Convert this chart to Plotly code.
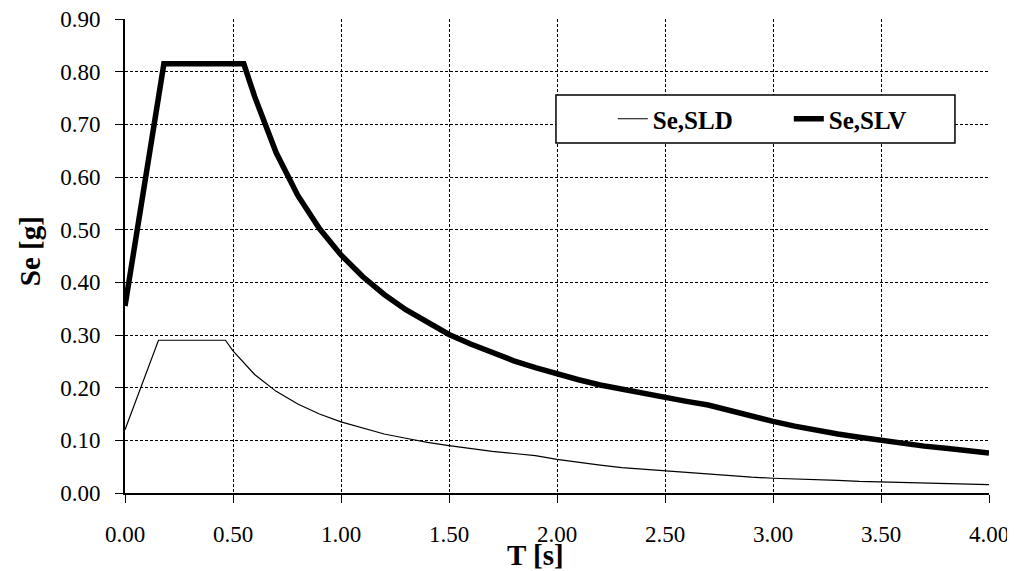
import plotly.graph_objects as go

# Period values [s] and spectral accelerations [g]
T_SLD = [0.0, 0.155, 0.465, 0.5, 0.6, 0.7, 0.8, 0.9, 1.0, 1.1, 1.2, 1.3, 1.4, 1.5,
         1.6, 1.7, 1.8, 1.9, 2.0, 2.1, 2.2, 2.3, 2.4, 2.5, 2.6, 2.7, 2.8, 2.9, 3.0,
         3.1, 3.2, 3.3, 3.4, 3.5, 3.6, 3.7, 3.8, 3.9, 4.0]
Se_SLD = [0.120, 0.290, 0.290, 0.270, 0.225, 0.193, 0.169, 0.150, 0.135, 0.123, 0.112,
          0.104, 0.096, 0.090, 0.084, 0.079, 0.075, 0.071, 0.064, 0.058, 0.053, 0.048,
          0.045, 0.041, 0.038, 0.035, 0.033, 0.030, 0.028, 0.027, 0.025, 0.024, 0.022,
          0.021, 0.020, 0.019, 0.018, 0.017, 0.016]

T_SLV = [0.0, 0.18, 0.55, 0.6, 0.7, 0.8, 0.9, 1.0, 1.1, 1.2, 1.3, 1.4, 1.5, 1.6, 1.7,
         1.8, 1.9, 2.0, 2.1, 2.2, 2.3, 2.4, 2.5, 2.6, 2.7, 2.8, 2.9, 3.0, 3.1, 3.2,
         3.3, 3.4, 3.5, 3.6, 3.7, 3.8, 3.9, 4.0]
Se_SLV = [0.355, 0.815, 0.815, 0.753, 0.646, 0.565, 0.502, 0.452, 0.411, 0.377, 0.348,
          0.323, 0.301, 0.283, 0.266, 0.251, 0.238, 0.226, 0.215, 0.205, 0.197, 0.188,
          0.181, 0.174, 0.167, 0.156, 0.145, 0.136, 0.127, 0.119, 0.112, 0.106, 0.100,
          0.094, 0.089, 0.085, 0.080, 0.076]

x_ticks = [0.0, 0.5, 1.0, 1.5, 2.0, 2.5, 3.0, 3.5, 4.0]
y_ticks = [0.0, 0.1, 0.2, 0.3, 0.4, 0.5, 0.6, 0.7, 0.8, 0.9]

FONT = "Liberation Serif"

fig = go.Figure()
fig.add_trace(go.Scatter(x=T_SLD, y=Se_SLD, mode="lines", name="Se,SLD",
                         line=dict(color="black", width=1.2)))
fig.add_trace(go.Scatter(x=T_SLV, y=Se_SLV, mode="lines", name="Se,SLV",
                         line=dict(color="black", width=5.5)))

axis_common = dict(
    showgrid=True, gridcolor="black", gridwidth=1, griddash="3px,2px",
    showline=True, linecolor="black", linewidth=2, zeroline=False,
    ticks="outside", ticklen=8, tickcolor="black", tickwidth=1,
    automargin=False, ticklabeloverflow="allow",
    tickfont=dict(family=FONT, size=23, color="black"),
)

fig.update_xaxes(range=[0, 4.0], tickvals=x_ticks,
                 ticktext=[f"{v:.2f}" for v in x_ticks],
                 ticklabelstandoff=11, **axis_common)
fig.update_yaxes(range=[0, 0.9], tickvals=y_ticks,
                 ticktext=[f"{v:.2f}" for v in y_ticks],
                 ticklabelstandoff=10, **axis_common)

# legend frame
fig.add_shape(type="rect", xref="paper", yref="paper",
              x0=0.4988, x1=0.9606, y0=0.7384, y1=0.8397,
              fillcolor="white", line=dict(color="black", width=1.5), layer="above")

# page body has an 8px margin, so the figure is offset by 8px in the window
fig.update_layout(
    width=1015, height=571,
    margin=dict(l=117, r=34, t=11, b=86),
    paper_bgcolor="white", plot_bgcolor="white",
    showlegend=True,
    legend=dict(orientation="h", x=0.5646, y=0.789, xanchor="left", yanchor="middle",
                bgcolor="rgba(0,0,0,0)", borderwidth=0,
                entrywidth=131, entrywidthmode="pixels",
                font=dict(family=FONT, size=25, color="black", weight="bold")),
    annotations=[
        dict(text="<b>T [s]</b>", xref="paper", yref="paper", x=0.475, y=-0.131,
             xanchor="center", yanchor="middle", showarrow=False,
             font=dict(family=FONT, size=29, color="black")),
        dict(text="<b>Se [g]</b>", xref="paper", yref="paper", x=-0.11, y=0.51,
             xanchor="center", yanchor="middle", showarrow=False, textangle=-90,
             font=dict(family=FONT, size=29, color="black")),
    ],
)

fig.write_html("out.html")
